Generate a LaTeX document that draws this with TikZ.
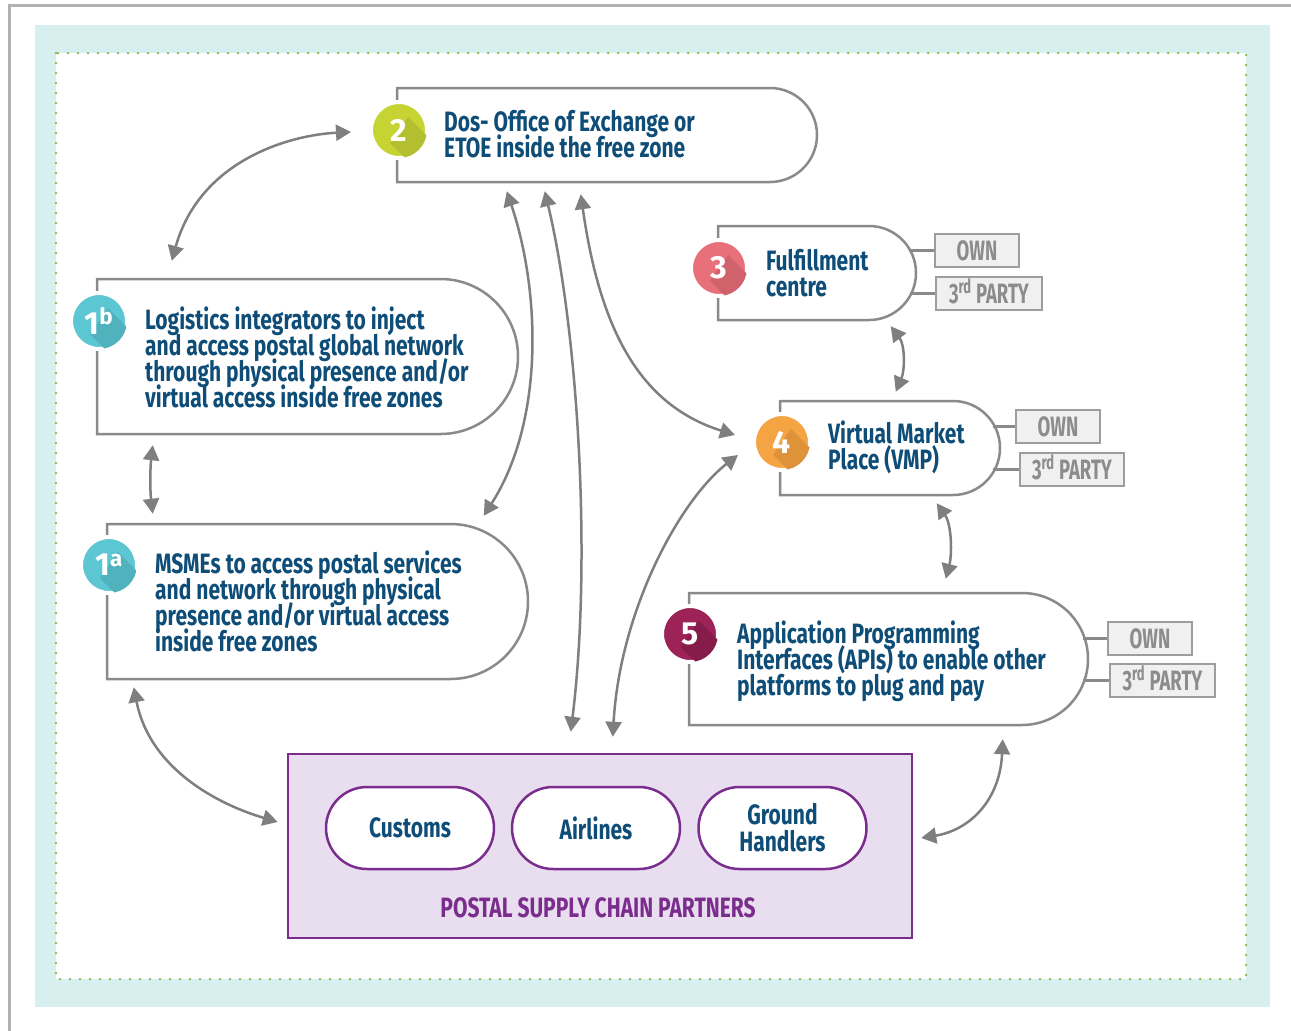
\documentclass[tikz,border=0pt]{standalone}
\usepackage{fontspec}
\setmainfont{Fira Sans}
\newfontfamily\cond{Fira Sans}[FakeStretch=0.75]
\newfontfamily\condo{Fira Sans}[FakeStretch=0.66]
\usetikzlibrary{shapes.misc,arrows.meta}
\newcommand\tightlines{\lineskiplimit=-30pt\relax\lineskip=0pt\relax}
\definecolor{txt}{HTML}{0E4D78}
\definecolor{boxgray}{HTML}{8A8A8A}
\definecolor{arrgray}{HTML}{7F7F7F}
\definecolor{owngray}{HTML}{8C8C8C}
\definecolor{ownfill}{HTML}{F0F0F0}
\definecolor{cyanbg}{HTML}{D8EFF0}
\definecolor{dotgreen}{HTML}{7DB83A}
\definecolor{purp}{HTML}{7B2D8E}
\definecolor{lav}{HTML}{E9DEEF}
\definecolor{cgreen}{HTML}{C6D433}
\definecolor{cgreenD}{HTML}{B3BF2E}
\definecolor{cred}{HTML}{E8707A}
\definecolor{credD}{HTML}{D0626C}
\definecolor{ccyan}{HTML}{5CC6D2}
\definecolor{ccyanD}{HTML}{4FB2BD}
\definecolor{corange}{HTML}{F5A443}
\definecolor{corangeD}{HTML}{DE933A}
\definecolor{cmaroon}{HTML}{9C2258}
\definecolor{cmaroonD}{HTML}{851C4A}
\newcommand\numcirc[6]{%
  \node[numc, fill=#4] (#1) at (#2,#3) {};
  \begin{scope}
    \clip (#2,#3) circle[radius=28];
    \fill[#5] (#2+9,#3-13) -- (#2+49,#3+27) -- (#2+31,#3+53) -- (#2-9,#3+13) -- cycle;
  \end{scope}
  \node[numt] (#1t) at (#2,#3) {#6};
}
\begin{document}
\begin{tikzpicture}[x=1pt,y=-1pt,
  capsule/.style={rounded rectangle, rounded rectangle west arc=none, draw=boxgray, line width=2.5pt, fill=white, inner sep=0pt},
  pill/.style={rounded rectangle, draw=purp, line width=2.5pt, fill=white, inner sep=0pt, minimum width=168pt, minimum height=82pt, text=txt, font=\cond\bfseries\fontsize{28}{27}\selectfont\tightlines, align=center},
  numc/.style={circle, minimum size=56pt, inner sep=0pt, draw=white, line width=4pt},
  numt/.style={text=white, font=\bfseries\fontsize{32}{32}\selectfont, inner sep=0pt},
  maintext/.style={text=txt, font=\cond\bfseries\fontsize{28}{26}\selectfont\tightlines, align=left, inner sep=0pt, anchor=west},
  ownbox/.style={draw=owngray!85, fill=ownfill, line width=2.5pt, text=owngray, font=\condo\bfseries\fontsize{28}{28}\selectfont, minimum height=33pt, inner sep=0pt, text height=19pt, text depth=0pt},
  link/.style={draw=boxgray, line width=2.5pt},
  dbl/.style={draw=arrgray, line width=2.5pt, {Triangle[length=15pt,width=16pt]}-{Triangle[length=15pt,width=16pt]}}
]
\useasboundingbox (0,0) rectangle (1291,1031);
\fill[white] (0,0) rectangle (1291,1031);
\draw[black!30, line width=3pt] (9,1031) -- (9,5) -- (1291,5);
\fill[cyanbg] (35,25) rectangle (1270,1007);
\fill[white] (56,53) rectangle (1246,979);
\draw[dotgreen, line width=2.5pt, line cap=round, dash pattern=on 0pt off 10pt] (56,53) rectangle (1246,979);

% capsules
\node[capsule, minimum width=420pt, minimum height=94pt] (b2) at (607,135) {};
\node[capsule, minimum width=198pt, minimum height=94pt] (b3) at (817,273) {};
\node[capsule, minimum width=421pt, minimum height=155pt] (b1b) at (307.5,356.5) {};
\node[capsule, minimum width=421pt, minimum height=155pt] (b1a) at (317.5,601.5) {};
\node[capsule, minimum width=220pt, minimum height=94pt] (b4) at (890,448) {};
\node[capsule, minimum width=399pt, minimum height=132pt] (b5) at (888.5,659) {};

% number circles
\numcirc{c2}{399}{130}{cgreen}{cgreenD}{2}
\numcirc{c3}{719}{268}{cred}{credD}{3}
\numcirc{c1b}{99}{321}{ccyan}{ccyanD}{1\textsuperscript{b}}
\numcirc{c1a}{109}{565}{ccyan}{ccyanD}{1\textsuperscript{a}}
\numcirc{c4}{782}{442}{corange}{corangeD}{4}
\numcirc{c5}{690}{634}{cmaroon}{cmaroonD}{5}

% texts
\node[maintext] (t2) at (444,134) {Dos- Office of Exchange or\\ETOE inside the free zone};
\node[maintext] (t3) at (766,273) {Fulfillment\\centre};
\node[maintext] (t1b) at (145,357) {Logistics integrators to inject\\and access postal global network\\through physical presence and/or\\virtual access inside free zones};
\node[maintext] (t1a) at (155,601) {MSMEs to access postal services\\and network through physical\\presence and/or virtual access\\inside free zones};
\node[maintext] (t4) at (828,447.5) {Virtual Market\\Place (VMP)};
\node[maintext] (t5) at (737,661) {Application Programming\\Interfaces (APIs) to enable other\\platforms to plug and pay};

% own / 3rd party
\node[ownbox, minimum width=84pt] (o3) at (977,250.5) {OWN};
\node[ownbox, minimum width=106pt] (p3) at (989,293.5) {3\textsuperscript{rd} PARTY};
\node[ownbox, minimum width=84pt] (o4) at (1058,426.5) {OWN};
\node[ownbox, minimum width=104pt] (p4) at (1072,469.5) {3\textsuperscript{rd} PARTY};
\node[ownbox, minimum width=84pt] (o5) at (1150,638.5) {OWN};
\node[ownbox, minimum width=105pt] (p5) at (1162.5,680.5) {3\textsuperscript{rd} PARTY};
\draw[link] (o3.west) -- ++(-25,0);
\draw[link] (p3.west) -- ++(-25,0);
\draw[link] (o4.west) -- ++(-22,0);
\draw[link] (p4.west) -- ++(-26,0);
\draw[link] (o5.west) -- ++(-24,0);
\draw[link] (p5.west) -- ++(-26,0);

% partners
\node[draw=purp, fill=lav, line width=2.5pt, minimum width=624pt, minimum height=184pt, inner sep=0pt] (P) at (600,846) {};
\node[pill] (cus) at (410,828) {Customs};
\node[pill] (air) at (596,828) {Airlines};
\node[pill] (gro) at (782.5,828) {Ground\\Handlers};
\node[text=purp, font=\cond\bfseries\fontsize{28}{28}\selectfont, anchor=base, inner sep=0pt] (pl) at (598,917) {POSTAL SUPPLY CHAIN PARTNERS};

% arrows
\draw[dbl] ([shift={(76,-17)}]b1b.north west) .. controls (200,160) and (290,135) .. ([shift={(-18,2)}]c2.west);
\draw[dbl] ([shift={(57,10)}]b1b.south west) .. controls (150,470) and (150,490) .. ([shift={(47,-9)}]b1a.north west);
\draw[dbl] ([shift={(111,8)}]b2.south west) .. controls (540,290) and (545,420) .. ([shift={(378,-7)}]b1a.north west);
\draw[dbl] ([shift={(149,8)}]b2.south west) .. controls (578,330) and (592,560) .. ([shift={(284,-21)}]P.north west);
\draw[dbl] ([shift={(185,11)}]b2.south west) .. controls (600,330) and (640,405) .. ([shift={(-17,-7)}]c4.west);
\draw[dbl] ([shift={(326,-16)}]P.north west) .. controls (620,610) and (680,500) .. ([shift={(-14,13)}]c4.west);
\draw[dbl] ([shift={(174,5)}]b3.south west) .. controls (905,345) and (905,370) .. ([shift={(117,-8)}]b4.north west);
\draw[dbl] ([shift={(158,7)}]b4.south west) .. controls (952,525) and (952,555) .. ([shift={(258,-13)}]b5.north west);
\draw[dbl] ([shift={(315,13)}]b5.south west) .. controls (1000,800) and (970,830) .. ([shift={(8,-8)}]P.east);
\draw[dbl] ([shift={(28,7)}]b1a.south west) .. controls (150,770) and (220,805) .. ([shift={(-9,-24)}]P.west);
\end{tikzpicture}
\end{document}
